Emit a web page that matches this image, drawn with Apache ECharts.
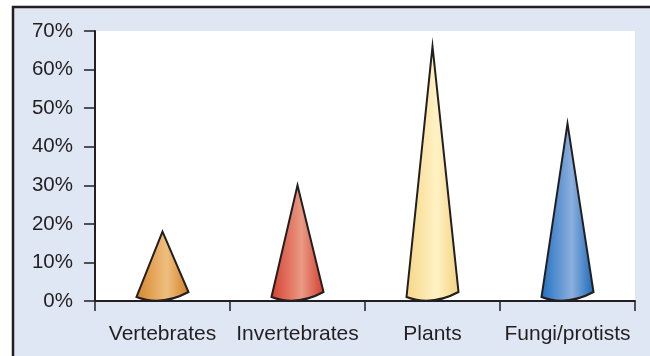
<!DOCTYPE html>
<html>
<head>
<meta charset="utf-8">
<script src="https://cdn.jsdelivr.net/npm/echarts@6/dist/echarts.min.js"></script>
<style>
  html, body { margin: 0; padding: 0; background: #ffffff; }
  #chart { width: 650px; height: 356px; }
</style>
</head>
<body>
<div id="chart"></div>
<script>
// Share of species groups, drawn as cones
const categories = ['Vertebrates', 'Invertebrates', 'Plants', 'Fungi/protists'];
const shares = [18, 30, 66, 46];
const yTicks = [0, 10, 20, 30, 40, 50, 60, 70];

// Side-to-side shading for each cone: [edge, highlight, far edge]
const coneShades = [
  ['#d6842a', '#efbf80', '#d37d1e'],
  ['#d63f30', '#e99a84', '#d43a2c'],
  ['#f6d688', '#fff2c4', '#f3d17c'],
  ['#1f6fc0', '#8cb0de', '#1767b8']
];

const textColor = '#231f20';
const fontFamily = '"Liberation Sans", Arial, Helvetica, sans-serif';

const chart = echarts.init(document.getElementById('chart'), null, { renderer: 'canvas' });

function renderCone(params, api) {
  const idx = api.value(0);
  const tip = api.coord([idx, api.value(1)]);
  const foot = api.coord([idx, 0]);
  const half = 26;
  const cx = tip[0];
  const by = foot[1];
  const left = [cx - half, by - 4];
  const right = [cx + half, by - 9];
  const ctrl = [cx - 1, by + 5.5];
  const shade = coneShades[idx];
  const path = 'M' + tip[0] + ' ' + tip[1] +
    ' L' + right[0] + ' ' + right[1] +
    ' Q' + ctrl[0] + ' ' + ctrl[1] + ' ' + left[0] + ' ' + left[1] + ' Z';
  return {
    type: 'path',
    shape: { pathData: path },
    style: {
      fill: new echarts.graphic.LinearGradient(0, 0, 1, 0, [
        { offset: 0, color: shade[0] },
        { offset: 0.58, color: shade[1] },
        { offset: 1, color: shade[2] }
      ]),
      stroke: '#231f20',
      lineWidth: 2,
      lineJoin: 'miter'
    }
  };
}

chart.setOption({
  backgroundColor: '#ffffff',
  animation: false,
  graphic: [
    {
      type: 'rect',
      z: -10,
      silent: true,
      shape: { x: 13, y: 7, width: 640, height: 352 },
      style: { fill: '#dfe7f4' }
    },
    {
      type: 'polyline',
      z: 10,
      silent: true,
      shape: { points: [[13, 360], [13, 7], [652, 7]] },
      style: { stroke: '#231f20', lineWidth: 2.5, fill: null }
    }
  ],
  grid: {
    left: 95,
    right: 15,
    top: 31,
    bottom: 55,
    show: true,
    backgroundColor: '#ffffff',
    borderWidth: 0
  },
  xAxis: {
    type: 'category',
    data: categories,
    boundaryGap: true,
    axisLine: { show: true, lineStyle: { color: '#231f20', width: 2 } },
    axisTick: { show: true, length: 10, alignWithLabel: false, interval: 0, lineStyle: { color: '#231f20', width: 1.5 } },
    axisLabel: { color: textColor, fontSize: 21, fontFamily: fontFamily, margin: 23, interval: 0, hideOverlap: false },
    splitLine: { show: false }
  },
  yAxis: {
    type: 'value',
    min: 0,
    max: 70,
    interval: 10,
    axisLine: { show: true, lineStyle: { color: '#231f20', width: 2 } },
    axisTick: { show: true, length: 11, lineStyle: { color: '#231f20', width: 1.5 } },
    axisLabel: {
      color: textColor,
      fontSize: 20.5,
      fontFamily: fontFamily,
      margin: 22,
      formatter: function (v) { return yTicks.indexOf(v) >= 0 ? v + '%' : ''; }
    },
    splitLine: { show: false }
  },
  series: [{
    type: 'custom',
    renderItem: renderCone,
    clip: false,
    z: 5,
    data: shares.map(function (v, i) { return [i, v]; }),
    encode: { x: 0, y: 1 }
  }]
});
</script>
</body>
</html>
